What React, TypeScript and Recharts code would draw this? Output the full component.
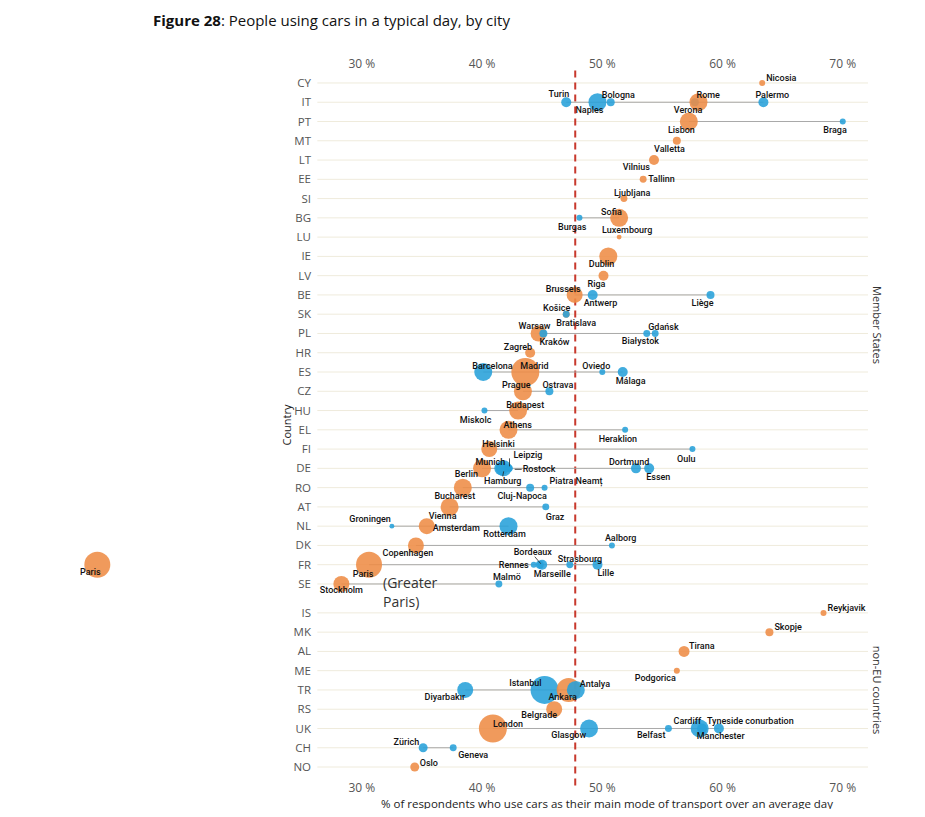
import React from 'react';
import { ScatterChart, Scatter, XAxis, YAxis, ZAxis, ReferenceLine } from 'recharts';

// rows, top to bottom
const memberCountries = ['CY', 'IT', 'PT', 'MT', 'LT', 'EE', 'SI', 'BG', 'LU', 'IE', 'LV', 'BE', 'SK', 'PL', 'HR', 'ES', 'CZ', 'HU', 'EL', 'FI', 'DE', 'RO', 'AT', 'NL', 'DK', 'FR', 'SE'];
const nonEuCountries = ['IS', 'MK', 'AL', 'ME', 'TR', 'RS', 'UK', 'CH', 'NO'];

const cityNames = [
  'Nicosia', 'Turin', 'Naples', 'Bologna', 'Verona', 'Rome', 'Palermo', 'Lisbon', 'Braga', 'Valletta',
  'Vilnius', 'Tallinn', 'Ljubljana', 'Burgas', 'Sofia', 'Luxembourg', 'Dublin', 'Riga', 'Brussels', 'Antwerp',
  'Liège', 'Bratislava', 'Košice', 'Warsaw', 'Kraków', 'Białystok', 'Gdańsk', 'Zagreb', 'Barcelona', 'Madrid',
  'Oviedo', 'Málaga', 'Prague', 'Ostrava', 'Miskolc', 'Budapest', 'Athens', 'Heraklion', 'Helsinki', 'Oulu',
  'Berlin', 'Munich', 'Hamburg', 'Leipzig', 'Rostock', 'Dortmund', 'Essen', 'Bucharest', 'Cluj-Napoca', 'Piatra Neamț',
  'Vienna', 'Graz', 'Groningen', 'Amsterdam', 'Rotterdam', 'Copenhagen', 'Aalborg', 'Paris', 'Rennes', 'Bordeaux',
  'Marseille', 'Strasbourg', 'Lille', 'Stockholm', 'Malmö',
  'Reykjavik', 'Skopje', 'Tirana', 'Podgorica', 'Diyarbakır', 'Istanbul', 'Ankara', 'Antalya', 'Belgrade', 'London',
  'Glasgow', 'Belfast', 'Manchester', 'Cardiff', 'Tyneside conurbation', 'Zürich', 'Geneva', 'Oslo',
];
const cityCountry = [
  'CY', 'IT', 'IT', 'IT', 'IT', 'IT', 'IT', 'PT', 'PT', 'MT',
  'LT', 'EE', 'SI', 'BG', 'BG', 'LU', 'IE', 'LV', 'BE', 'BE',
  'BE', 'SK', 'SK', 'PL', 'PL', 'PL', 'PL', 'HR', 'ES', 'ES',
  'ES', 'ES', 'CZ', 'CZ', 'HU', 'HU', 'EL', 'EL', 'FI', 'FI',
  'DE', 'DE', 'DE', 'DE', 'DE', 'DE', 'DE', 'RO', 'RO', 'RO',
  'AT', 'AT', 'NL', 'NL', 'NL', 'DK', 'DK', 'FR', 'FR', 'FR',
  'FR', 'FR', 'FR', 'SE', 'SE',
  'IS', 'MK', 'AL', 'ME', 'TR', 'TR', 'TR', 'TR', 'RS', 'UK',
  'UK', 'UK', 'UK', 'UK', 'UK', 'CH', 'CH', 'NO',
];
// % of respondents using the car as main mode
const cityShare = [
  63.3, 47.0, 49.6, 50.7, 57.7, 58.0, 63.4, 57.2, 70.0, 56.2,
  54.3, 53.4, 51.8, 48.1, 51.4, 51.4, 50.5, 50.1, 47.7, 49.2,
  59.0, 47.0, 47.0, 44.7, 45.1, 53.7, 54.4, 44.0, 40.1, 43.6,
  50.0, 51.7, 43.4, 45.6, 40.2, 43.0, 42.2, 51.9, 40.6, 57.5,
  40.0, 41.6, 41.8, 42.2, 42.3, 52.8, 53.9, 38.4, 44.0, 45.2,
  37.3, 45.3, 32.5, 35.4, 42.2, 34.5, 50.8, 30.6, 44.3, 44.8,
  45.0, 47.3, 49.6, 28.3, 41.4,
  68.4, 63.9, 56.8, 56.2, 38.6, 45.2, 47.2, 47.8, 46.0, 40.9,
  48.9, 55.5, 58.1, 58.3, 59.7, 35.1, 37.6, 34.4,
];
// relative city size (bubble area)
const cityPop = [
  9, 25, 81, 16, 16, 81, 25, 81, 9, 16,
  25, 12, 12, 9, 81, 6, 81, 25, 64, 25,
  16, 12, 12, 64, 16, 12, 12, 25, 81, 196,
  9, 25, 81, 16, 9, 81, 81, 9, 64, 9,
  81, 49, 64, 16, 9, 25, 25, 81, 16, 9,
  81, 12, 6, 64, 81, 64, 9, 169, 9, 16,
  25, 12, 25, 64, 12,
  9, 16, 30, 9, 64, 196, 144, 81, 64, 196,
  81, 12, 81, 25, 25, 20, 12, 20,
];
const capitals = [
  'Nicosia', 'Rome', 'Lisbon', 'Valletta', 'Vilnius', 'Tallinn', 'Ljubljana', 'Sofia', 'Luxembourg', 'Dublin',
  'Riga', 'Brussels', 'Bratislava', 'Warsaw', 'Zagreb', 'Madrid', 'Prague', 'Budapest', 'Athens', 'Helsinki',
  'Berlin', 'Bucharest', 'Vienna', 'Amsterdam', 'Copenhagen', 'Paris', 'Stockholm',
  'Reykjavik', 'Skopje', 'Tirana', 'Podgorica', 'Ankara', 'Belgrade', 'London', 'Oslo',
];

// second Paris point, far outside the axis range
const outlierCity = { name: 'Paris', country: 'FR', share: 8.0, pop: 169 };

const euAverage = 47.75;
const xTicks = [30, 40, 50, 60, 70];

const ORANGE = '#EE8C45';
const BLUE = '#27A0DA';
const GREY_TEXT = '#555';
const LABEL_FONT = 'Roboto, "Liberation Sans", sans-serif';
const AXIS_FONT = '"Open Sans", "DejaVu Sans", sans-serif';

const X_FROM = 26.3;
const X_TO = 72.1;

const rows = [
  ...memberCountries.map((code, i) => ({ code, pos: i })),
  ...nonEuCountries.map((code, j) => ({ code, pos: 27.5 + j })),
];
const rowOf = (code: string) => rows.find((r) => r.code === code)!.pos;

type Pt = { x: number; y: number; z: number; name: string; capital: boolean; labelId: string };

const points: Pt[] = [
  {
    x: outlierCity.share,
    y: rowOf(outlierCity.country),
    z: outlierCity.pop,
    name: outlierCity.name,
    capital: true,
    labelId: 'Paris-outer',
  },
  ...cityNames.map((name, i) => ({
    x: cityShare[i],
    y: rowOf(cityCountry[i]),
    z: cityPop[i],
    name,
    capital: capitals.includes(name),
    labelId: name,
  })),
];

// min..max connector per country
const connectors = rows
  .map((r) => {
    const vals = cityShare.filter((_, i) => cityCountry[i] === r.code);
    if (vals.length < 2) return null;
    return {
      code: r.code,
      pts: [
        { x: Math.min(...vals), y: r.pos },
        { x: Math.max(...vals), y: r.pos },
      ],
    };
  })
  .filter(Boolean) as { code: string; pts: { x: number; y: number }[] }[];

// label placement: anchor, dx, dy (text centre relative to bubble centre), optional leader line
type Spec = [string, number, number, number[]?];
const labelLayout: Record<string, Spec> = {
  Nicosia: ['s', 4, -5],
  Palermo: ['s', -8, -7],
  Rome: ['s', -2, -7],
  Verona: ['s', -21, 8],
  Bologna: ['s', -9, -7],
  Naples: ['e', 6, 8],
  Turin: ['e', 3, -8],
  Lisbon: ['e', 6, 8],
  Braga: ['e', 4, 8],
  Valletta: ['e', 8, 8],
  Vilnius: ['e', -4, 7],
  Tallinn: ['s', 5, 0],
  Ljubljana: ['s', -10, -6],
  Sofia: ['s', -18, -6],
  Burgas: ['e', 7, 9],
  Luxembourg: ['s', -17, -7],
  Dublin: ['e', 6, 8],
  Riga: ['e', 2, 8],
  Brussels: ['e', 6, -6],
  Antwerp: ['s', -9, 8],
  'Liège': ['e', 3, 8],
  'Košice': ['e', 4, -6],
  Bratislava: ['s', -10, 9],
  Warsaw: ['s', -20, -7],
  'Kraków': ['s', -4, 9],
  'Gdańsk': ['s', -7, -6],
  'Białystok': ['s', -25, 8],
  Zagreb: ['e', 2, -6],
  Barcelona: ['s', -11, -6],
  Madrid: ['s', -5, -6],
  Oviedo: ['s', -20, -6],
  'Málaga': ['s', -7, 9],
  Prague: ['s', -21, -6],
  Ostrava: ['s', -7, -6],
  Budapest: ['s', -12, -6],
  Miskolc: ['e', 7, 9],
  Athens: ['s', -5, -5],
  Heraklion: ['e', 12, 9],
  Helsinki: ['s', -7, -5],
  Oulu: ['e', 3, 10],
  Berlin: ['e', -4, 6],
  Munich: ['e', 4, -6],
  Leipzig: ['s', 5, -13, [1, -10, 1, -2]],
  Rostock: ['s', 13, 1, [5, 1, 12, 1]],
  Hamburg: ['m', -1, 13, [0, 3, -1, 8]],
  Dortmund: ['s', -27, -6],
  Essen: ['s', -3, 9],
  Bucharest: ['m', -8, 8],
  'Cluj-Napoca': ['m', -8, 8],
  'Piatra Neamț': ['s', 5, -7],
  Vienna: ['m', -7, 9],
  Graz: ['s', 0, 10],
  Groningen: ['e', -1, -7],
  Amsterdam: ['s', 6, 2],
  Rotterdam: ['m', -4, 8],
  Copenhagen: ['m', -8, 8],
  Aalborg: ['s', -7, -7],
  Paris: ['m', -6, 9],
  'Paris-outer': ['m', -7, 7],
  Bordeaux: ['m', -7, -13, [-5, -8, 1, -1]],
  Rennes: ['e', -5, 0],
  Marseille: ['m', 10, 9],
  Strasbourg: ['s', -12, -6],
  Lille: ['s', 0, 8],
  Stockholm: ['m', 0, 6],
  'Malmö': ['s', -6, -7],
  Reykjavik: ['s', 4, -5],
  Skopje: ['s', 5, -5],
  Tirana: ['s', 5, -5],
  Podgorica: ['e', -1, 7],
  'Diyarbakır': ['e', 0, 7],
  Istanbul: ['e', -3, -7],
  Ankara: ['m', -6, 7],
  Antalya: ['s', 4, -6],
  Belgrade: ['m', -15, 6],
  London: ['s', 0, -4],
  Glasgow: ['e', -3, 7],
  Belfast: ['e', -3, 7],
  Cardiff: ['e', -1, -7],
  'Tyneside conurbation': ['s', -12, -7],
  Manchester: ['m', 21, 8],
  'Zürich': ['e', -4, -6],
  Geneva: ['s', 5, 7],
  Oslo: ['s', 5, -4],
};

const anchorOf: Record<string, 'start' | 'middle' | 'end'> = { s: 'start', m: 'middle', e: 'end' };

function Bubble(props: any) {
  const { cx, cy, size, payload } = props;
  const r = Math.sqrt(Math.max(size || 0, 0) / Math.PI);
  return <circle cx={cx} cy={cy} r={r} fill={payload.capital ? ORANGE : BLUE} fillOpacity={0.88} />;
}

function CityLabel(props: any) {
  const { cx, cy, payload } = props;
  const spec = labelLayout[payload.labelId];
  if (!spec) return <g />;
  const [a, dx, dy, leader] = spec;
  return (
    <g>
      {leader && (
        <line
          x1={cx + leader[0]}
          y1={cy + leader[1]}
          x2={cx + leader[2]}
          y2={cy + leader[3]}
          stroke="#222"
          strokeWidth={0.8}
        />
      )}
      <text
        x={cx + dx}
        y={cy + dy + 3}
        textAnchor={anchorOf[a]}
        fontSize={9}
        fontWeight={500}
        fontFamily={LABEL_FONT}
        fill="#111"
      >
        {payload.name}
      </text>
      {payload.labelId === 'Paris' && (
        <text x={cx + 14} fontSize={14} fontFamily={AXIS_FONT} fill="#333">
          <tspan x={cx + 14} y={cy + 23}>(Greater</tspan>
          <tspan x={cx + 14} y={cy + 42}>Paris)</tspan>
        </text>
      )}
    </g>
  );
}

function PctTick(props: any) {
  const { x, y, payload, shift } = props;
  return (
    <text x={x} y={y + shift} dy="0.35em" textAnchor="middle" fontSize={12} fontFamily={AXIS_FONT} fill={GREY_TEXT}>
      {`${payload.value} %`}
    </text>
  );
}

function CountryTick(props: any) {
  const { y, payload } = props;
  const row = rows.find((r) => r.pos === payload.value);
  return (
    <text x={303} y={y} dy="0.35em" textAnchor="end" fontSize={11.5} fontFamily={AXIS_FONT} fill={GREY_TEXT}>
      {row ? row.code : ''}
    </text>
  );
}

const noDot = () => <g />;

export default function App() {
  const W = 909;
  const H = 801;
  return (
    <div style={{ position: 'relative', width: W, height: H }}>
      <ScatterChart width={W} height={H} margin={{ top: 54.7, right: 49, bottom: 21.7, left: 52.25 }}>
        <XAxis
          xAxisId="b"
          type="number"
          dataKey="x"
          domain={[5, X_TO]}
          ticks={xTicks}
          interval={0}
          orientation="bottom"
          height={1}
          axisLine={false}
          tickLine={false}
          tickSize={0}
          tickMargin={0}
          allowDataOverflow
          tick={<PctTick shift={1} />}
        />
        <XAxis
          xAxisId="t"
          type="number"
          dataKey="x"
          domain={[5, X_TO]}
          ticks={xTicks}
          interval={0}
          orientation="top"
          height={1}
          axisLine={false}
          tickLine={false}
          tickSize={0}
          tickMargin={0}
          allowDataOverflow
          tick={<PctTick shift={-0.4} />}
        />
        <YAxis
          yAxisId="y"
          type="number"
          dataKey="y"
          domain={[-1, 36.5]}
          reversed
          ticks={rows.map((r) => r.pos)}
          interval={0}
          width={1}
          axisLine={false}
          tickLine={false}
          tickSize={0}
          tickMargin={0}
          allowDataOverflow
          tick={<CountryTick />}
        />
        <ZAxis dataKey="z" domain={[0, 196]} range={[0, 196 * Math.PI]} />

        {rows.map((r) => (
          <ReferenceLine
            key={`g-${r.code}`}
            xAxisId="b"
            yAxisId="y"
            segment={[
              { x: X_FROM, y: r.pos },
              { x: X_TO, y: r.pos },
            ]}
            stroke="#efebdc"
            strokeWidth={1}
          />
        ))}

        {connectors.map((c) => (
          <Scatter
            key={`c-${c.code}`}
            xAxisId="b"
            yAxisId="y"
            data={c.pts}
            line={{ stroke: '#a9a9a9', strokeWidth: 1 }}
            shape={noDot}
            legendType="none"
            isAnimationActive={false}
          />
        ))}

        <Scatter xAxisId="b" yAxisId="y" data={points} shape={Bubble} isAnimationActive={false} />

        <ReferenceLine
          xAxisId="b"
          yAxisId="y"
          segment={[
            { x: euAverage, y: -0.65 },
            { x: euAverage, y: 36.5 },
          ]}
          stroke="#c8392d"
          strokeWidth={2}
          strokeDasharray="7 5"
        />

        {/* labels share the top axis (same domain and range as the bottom one) */}
        <Scatter xAxisId="t" yAxisId="y" data={points} shape={CityLabel} isAnimationActive={false} />
      </ScatterChart>

      <svg width={W} height={H} style={{ position: 'absolute', left: 0, top: 0, pointerEvents: 'none' }}>
        <text x={145} y={17.5} fontSize={15} fontFamily={AXIS_FONT} fill="#111">
          <tspan fontWeight={700}>Figure 28</tspan>: People using cars in a typical day, by city
        </text>
        <text
          x={278}
          y={417}
          fontSize={11}
          fontFamily={AXIS_FONT}
          fill="#222"
          textAnchor="middle"
          dominantBaseline="central"
          transform="rotate(-90 278 417)"
        >
          Country
        </text>
        <text
          x={869}
          y={317}
          fontSize={11}
          fontFamily={AXIS_FONT}
          fill="#333"
          textAnchor="middle"
          dominantBaseline="central"
          transform="rotate(90 869 317)"
        >
          Member States
        </text>
        <text
          x={869}
          y={682}
          fontSize={11}
          fontFamily={AXIS_FONT}
          fill="#333"
          textAnchor="middle"
          dominantBaseline="central"
          transform="rotate(90 869 682)"
        >
          non-EU countries
        </text>
        <text x={599} y={795} fontSize={11.5} fontFamily={AXIS_FONT} fill="#222" textAnchor="middle" dominantBaseline="central">
          % of respondents who use cars as their main mode of transport over an average day
        </text>
      </svg>
    </div>
  );
}
